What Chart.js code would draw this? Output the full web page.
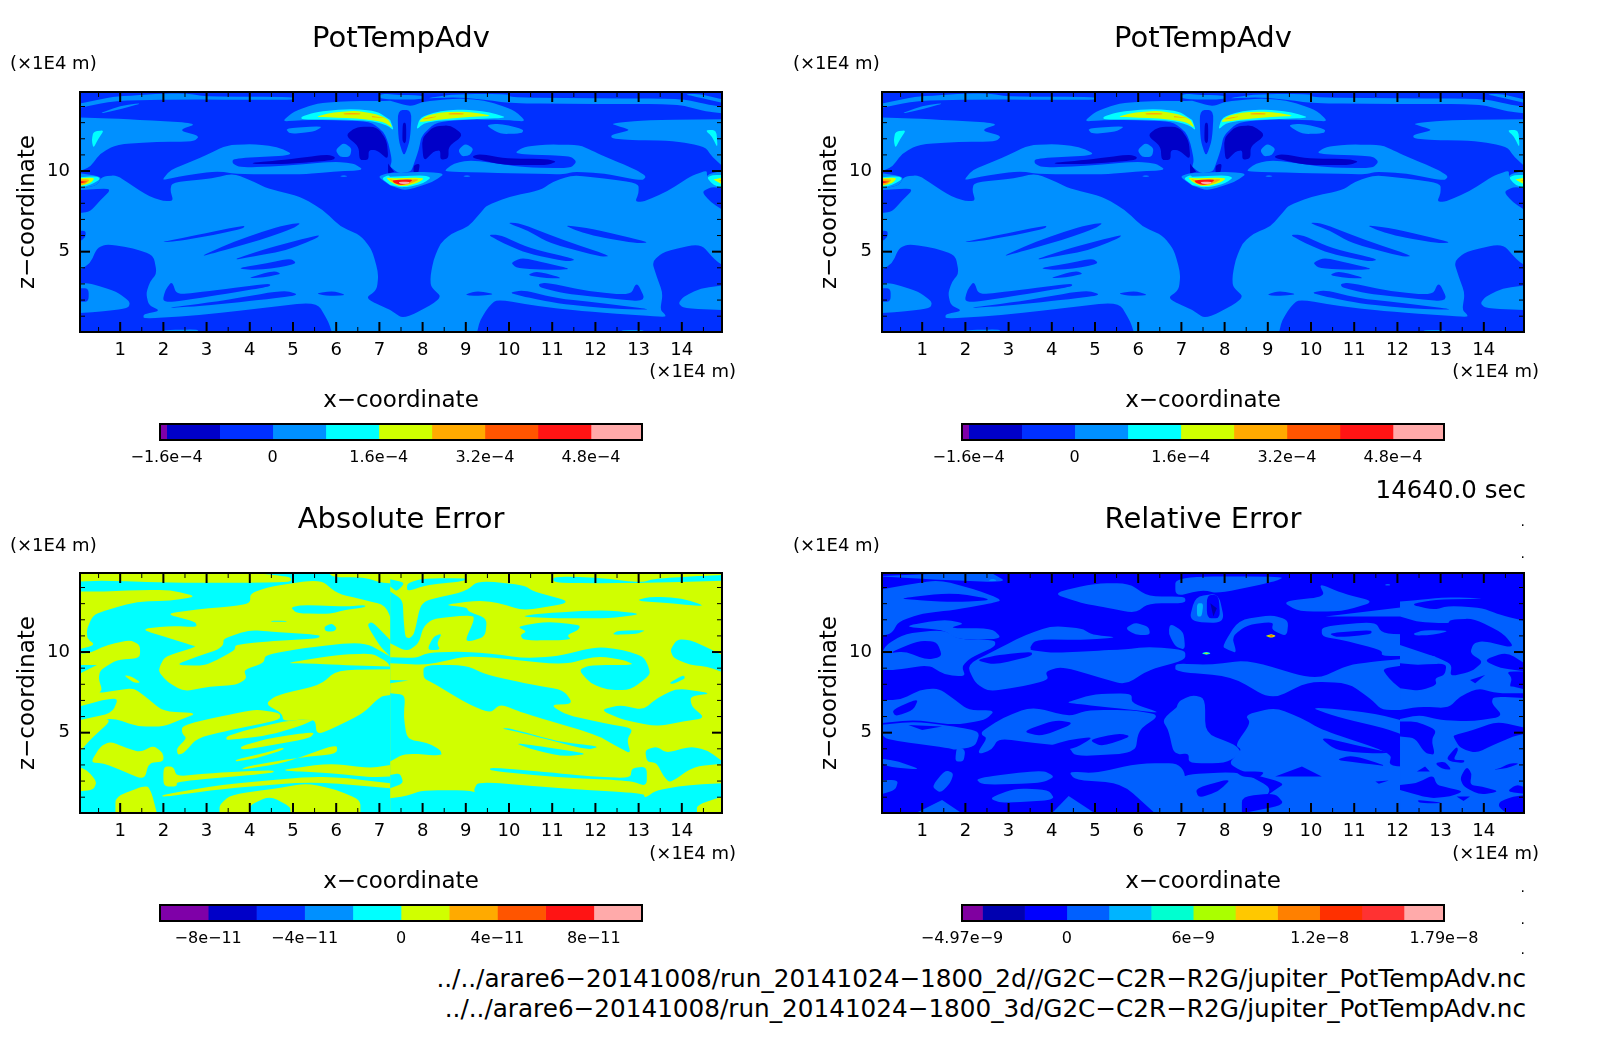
<!DOCTYPE html>
<html>
<head>
<meta charset="utf-8">
<title>PotTempAdv</title>
<script src="https://cdn.jsdelivr.net/npm/chart.js@4"></script>
<style>
  html, body { margin: 0; background: #fff; overflow: hidden; }
  canvas { position: absolute; }
  .note { position: absolute; font-family: "DejaVu Sans", sans-serif; color: #000; white-space: pre; line-height: 1; }
</style>
</head>
<body>
<script>
// Axis ticks
const xMajorTicks = [1, 2, 3, 4, 5, 6, 7, 8, 9, 10, 11, 12, 13, 14];
const xMinorTicks = [0.5, 1.5, 2.5, 3.5, 4.5, 5.5, 6.5, 7.5, 8.5, 9.5, 10.5, 11.5, 12.5, 13.5, 14.5];
const zMajorTicks = [5, 10];
const zMinorTicks = [1, 2, 3, 4, 6, 7, 8, 9, 11, 12, 13, 14];

// Colour levels
const potColours = ['#7f00a8', '#0000c8', '#0030ff', '#0090ff', '#00ffff', '#d0ff00', '#ffaa00', '#ff5500', '#ff1414', '#ffaaaa'];
const absColours = potColours;
const relColours = ['#8000a0', '#0000b0', '#0000ff', '#0060ff', '#00b4ff', '#00ffd0', '#aaff00', '#ffc800', '#ff8000', '#ff3000', '#ff3232', '#ffaaaa'];

const potEdges = [-1.7e-4, -1.6e-4, -0.8e-4, 0, 0.8e-4, 1.6e-4, 2.4e-4, 3.2e-4, 4e-4, 4.8e-4, 5.57e-4];
const absEdges = [-1e-10, -8e-11, -6e-11, -4e-11, -2e-11, 0, 2e-11, 4e-11, 6e-11, 8e-11, 1e-10];
const relEdges = [-4.97e-9, -4e-9, -2e-9, 0, 2e-9, 4e-9, 6e-9, 8e-9, 1e-8, 1.2e-8, 1.4e-8, 1.6e-8, 1.79e-8];

const potBarTicks = [-1.6e-4, 0, 1.6e-4, 3.2e-4, 4.8e-4];
const potBarLabels = ['−1.6e−4', '0', '1.6e−4', '3.2e−4', '4.8e−4'];
const absBarTicks = [-8e-11, -4e-11, 0, 4e-11, 8e-11];
const absBarLabels = ['−8e−11', '−4e−11', '0', '4e−11', '8e−11'];
const relBarTicks = [-4.97e-9, 0, 6e-9, 1.2e-8, 1.79e-8];
const relBarLabels = ['−4.97e−9', '0', '6e−9', '1.2e−8', '1.79e−8'];

const panelTitles = ['PotTempAdv', 'PotTempAdv', 'Absolute Error', 'Relative Error'];

// PotTempAdv contour bands, [x, z] in 1E4 m
const potWhole = [[0,0],[15,0],[15,15],[0,15]];
const potBig = [[0,8.82],[.46,9.13],[.58,9.65],[.92,9.75],[1.31,9.03],[1.69,8.41],[2,8.14],[2.23,8.14],[2.16,8.82],[2.2,9.28],[3.16,9.55],[3.62,9.86],[4.09,9.34],[4.4,8.93],[5.17,8.41],[5.71,7.58],[6.09,6.55],[6.56,6.03],[6.83,5.1],[6.98,3.66],[6.94,2.62],[6.67,2.11],[7.25,1.38],[7.57,.81],[8.47,2.11],[8.19,2.83],[8.18,3.45],[8.25,4.48],[8.41,5.52],[8.68,6.14],[9.06,6.55],[9.33,7.38],[9.49,7.89],[10.03,8.41],[10.72,8.82],[11.03,9.34],[11.46,9.75],[12.19,9.55],[13,9.24],[13,8.61],[12.92,8.1],[13.11,8.1],[13.65,8.72],[14.19,9.65],[14.58,10.06],[14.58,9.65],[14.73,9.03],[15,8.92],[15,4.07],[14.77,4.48],[14.43,5.52],[13.58,5],[13.31,4.38],[13.42,3.45],[13.56,2.42],[13.5,1.38],[13.62,1.11],[13.62,.93],[11.88,1.28],[10.72,1.59],[9.72,2.05],[9.53,1.59],[9.33,.76],[9.26,0],[5.9,0],[5.82,.66],[5.55,1.9],[4.24,1.49],[2.85,1.07],[1.54,.83],[1.54,1.12],[1.93,1.34],[1.66,1.69],[1.6,2.42],[1.69,3.14],[1.85,3.66],[1.77,4.79],[1.31,5.21],[.69,5.48],[.46,5.21],[.31,4.28],[0,3.76]];
const potUpperLeft = [[2,9.55],[2.16,10.06],[2.54,10.48],[3,10.99],[3.47,11.61],[4.09,11.67],[4.63,11.51],[5.05,10.99],[3.62,10.79],[3.59,10.48],[3.78,10.21],[4.86,10.33],[5.94,10.58],[6.4,10.48],[6.65,10.06],[5.94,9.96],[5.17,9.79],[3.7,9.81],[3.24,10],[2.54,9.75],[2,9.44]];
const potUpperRight = [[8.52,10.06],[8.72,10.47],[9.1,10.68],[9.72,10.47],[10.34,10.23],[11.42,10.16],[11.57,10.58],[11.42,10.93],[10.1,11.05],[10.34,11.51],[10.88,11.65],[11.65,11.61],[11.96,11.2],[12.5,10.58],[12.96,10.06],[13.18,9.65],[13.08,9.4],[12.19,9.85],[11.49,9.96],[11.26,9.79],[10.34,9.85],[9.41,9.9],[8.56,9.96]];
const potCornerLeft = [[0,13.33],[1.15,13.22],[2.81,12.96],[2.35,12.54],[2.84,12.17],[2.7,11.82],[1.85,11.82],[.92,11.65],[.54,11.1],[.31,10.27],[.1,10.02],[0,10.02]];
const potCornerRight = [[12.34,12.95],[13.19,13.16],[15,13.22],[15,10.16],[14.7,10.89],[14.54,11.51],[13.81,11.88],[12.81,11.92],[12.38,12.02],[12.36,12.23],[12.82,12.54],[12.57,12.75]];
const potTopLeft = [[0,13.88],[.85,14.36],[2.54,14.44],[5.01,14.4],[5.01,14.61],[3,14.61],[2.54,14.81],[2,14.81],[1.46,14.71],[.85,14.61],[0,14.15]];
const potTopWedge = [[.48,13.53],[1,14.03],[1.54,14.24],[1,13.82]];
const potTopMid = [[7.02,14.81],[7.48,14.71],[8,14.7],[8,14.44],[7.02,14.44]];
const potTopRight = [[8.02,14.5],[8.79,14.77],[10.01,14.77],[10.03,14.57],[11.96,14.5],[13.96,14.5],[14.66,14.09],[15,13.95],[15,13.57],[14.58,13.68],[13.89,14.15],[12.03,14.15],[10.03,14.2],[9.41,14.44],[8.79,14.57]];
const potTopSlit = [[14.04,14.77],[14.5,14.5],[15,14.19],[15,14.4],[14.43,14.77]];
const potArch = [[4.74,13.06],[5.01,13.68],[5.55,14.2],[6.32,14.34],[7.02,14.34],[7.25,14.36],[7.71,13.99],[8.02,14.3],[8.79,14.5],[9.41,14.4],[10.1,13.82],[10.41,13.06],[9.95,13.16],[9.1,13.2],[8.33,13.06],[7.98,12.23],[7.91,11.3],[7.79,10.37],[7.73,9.96],[7.44,9.85],[7.25,10.27],[7.29,10.68],[7.21,11.72],[7.1,12.44],[6.79,13.06],[5.94,13.16],[5.17,13.16]];
const potLobeLeft = [[4.82,12.65],[5.71,12.79],[5.48,12.44],[4.93,12.29]];
const potLobeRight = [[9.45,12.85],[9.8,12.95],[10.34,12.58],[10.3,12.33],[9.8,12.29]];
const potIsleLeft = [[0,3.04],[.31,3.04],[.92,2.52],[1.23,1.9],[1.19,1.49],[.54,1.28],[0,1.18]];
const potIsleLeftCore = [[0,2.73],[.27,2.73],[.27,1.9],[0,1.9]];
const potIsleRight = [[15,2.93],[14.43,2.73],[14.04,2.21],[13.92,1.8],[14.04,1.49],[15,1.38]];
const potHaloLeft = [[0,9.9],[.58,9.65],[.46,9.13],[0,8.82]];
const potHaloRight = [[14.54,9.75],[15,10.06],[15,8.82],[14.7,8.93]];
const potHaloMiddle = [[6.96,9.65],[7.17,9.86],[7.5,9.9],[8.1,9.95],[8.52,9.85],[8.25,9.34],[7.79,8.92],[7.56,8.82],[7.25,9.1]];
const potDashes = [[[6.1,9.72],[6.25,9.72],[6.25,9.65],[6.1,9.65]], [[8.95,9.72],[9.1,9.72],[9.1,9.65],[8.95,9.65]], [[2,.14],[2.8,.18],[2.8,0],[2,0]], [[12.61,.14],[13.11,.14],[13.11,0],[12.61,0]]];
const potCircleLeft = [[5.98,11.3],[6.17,11.76],[6.36,11.41],[6.32,10.89],[6.09,10.85]];
const potCircleRight = [[8.82,11.3],[8.99,11.71],[9.18,11.4],[9.1,10.99],[8.91,10.89]];
const potBlueStripes = [
  [[0,8.82],[.73,8.93],[.75,8.72],[.54,8.2],[.31,7.48],[0,7.38]],
  [[0,6.3],[.2,6.3],[.2,5.9],[0,5.5]],
  [[14.46,8.72],[14.7,9.03],[15,8.9],[15,7.48],[14.66,8.1]],
  [[1.89,5.56],[2.78,6.03],[3.89,6.65],[3.85,6.45],[3.16,6.03],[2.39,5.68]],
  [[2.84,4.69],[3.62,5.62],[4.63,6.55],[5.2,6.82],[5.01,6.45],[4.24,5.72],[3.24,4.96]],
  [[3.58,4.48],[4.4,5.2],[5.63,6.07],[5.55,5.83],[4.86,5.1],[4.09,4.69]],
  [[3.7,3.97],[4.4,4.28],[4.94,4.59],[5.09,4.28],[4.7,4.01],[4.09,3.86]],
  [[3.93,3.35],[4.55,3.82],[4.74,3.62],[4.32,3.41]],
  [[1.98,1.9],[2.04,2.62],[2.2,3.18],[2.31,2.31],[3.22,2.62],[4.47,3.04],[4.47,2.83],[3.24,2.31],[2.31,1.9]],
  [[2,1.49],[3.24,1.9],[4.78,2.62],[5.17,2.31],[4.24,2],[2.85,1.63]],
  [[5.52,2.42],[5.94,2.56],[6.25,2.31],[5.78,2.25]],
  [[11.28,6.65],[11.88,6.45],[13.27,5.58],[12.96,5.52],[12.03,5.93],[11.53,6.34]],
  [[9.94,6.8],[10.26,6.76],[11.26,5.72],[12.36,4.73],[12.11,4.69],[10.95,5.52],[10.41,6.34]],
  [[9.5,6.07],[9.8,6.03],[10.49,5.21],[11.57,4.52],[11.34,4.38],[10.41,4.9],[9.87,5.52]],
  [[10.04,4.32],[10.3,4.63],[10.72,4.38],[11.46,3.93],[11.03,3.86],[10.18,3.97]],
  [[10.41,3.55],[10.65,3.8],[11.26,3.35],[10.88,3.35]],
  [[10.68,3],[10.88,3.08],[11.88,2.52],[12.81,2.31],[12.96,3.14],[13.18,1.9],[12.27,2.11],[11.26,2.42],[10.72,2.79]],
  [[10,2.46],[10.34,2.62],[11.11,2.11],[12.19,1.8],[13.42,1.38],[12.19,1.49],[11.11,1.8],[10.34,2.21]],
  [[8.95,2.31],[9.26,2.58],[9.68,2.37],[9.33,2.25]],
  [[7.42,13.78],[7.75,13.78],[7.71,11.92],[7.57,10.85],[7.44,11.92]]
];
const potDarkBlue = [
  [[6.21,12.23],[6.48,12.75],[6.94,12.75],[7.17,11.92],[7.21,10.68],[6.94,11.3],[6.75,11.3],[6.75,10.68],[6.54,10.68],[6.52,11.51]],
  [[7.98,12.02],[8.25,12.75],[8.64,12.85],[8.95,12.23],[8.6,11.51],[8.6,10.78],[8.41,10.68],[8.41,11.3],[8.25,11.2],[8.02,10.58]],
  [[4.05,10.52],[4.78,10.68],[5.78,11.03],[5.98,10.89],[5.94,10.68],[4.86,10.43],[4.09,10.43]],
  [[9.16,10.93],[9.33,11.05],[9.95,10.78],[10.88,10.74],[11.11,10.58],[10.88,10.37],[9.87,10.37],[9.18,10.79]],
  [[7.79,10.37],[7.94,10.47],[7.9,9.85],[7.79,9.85]],
  [[7.2,10.47],[7.34,9.96],[7.2,9.85]],
  [[7.54,13],[7.62,13],[7.62,11.82],[7.57,11.7],[7.53,11.92]]
];
const potCyan = [
  [[.38,12.44],[.63,12.54],[.5,12.03],[.38,11.41],[.34,11.92]],
  [[14.54,12.54],[14.8,12.54],[14.83,11.4],[14.7,12.13]],
  [[5.19,13.37],[5.55,13.68],[6.32,13.86],[6.94,13.72],[7.25,13.16],[7.34,12.5],[7.17,12.85],[6.79,13.12],[5.94,13.2],[5.2,13.2]],
  [[7.85,12.54],[7.94,13.33],[8.41,13.74],[9.02,13.82],[9.56,13.64],[9.99,13.3],[9.1,13.2],[8.33,13.12],[8.02,12.95]],
  [[7.05,9.55],[7.2,9.75],[7.25,9.65],[8.02,9.75],[8.2,9.59],[8.02,9.24],[7.71,9.03],[7.48,8.99],[7.25,9.13]],
  [[0,9.6],[.46,9.69],[.54,9.5],[.31,9.13],[0,8.93]],
  [[14.58,9.59],[14.7,9.75],[15,9.75],[15,8.92],[14.73,9.13]]
];
const potYellow = [
  [[5.51,13.37],[5.94,13.64],[6.48,13.74],[6.94,13.53],[7.21,13.2],[7.31,12.65],[7.1,13.06],[6.48,13.27],[5.78,13.33]],
  [[7.91,13.06],[8.1,13.47],[8.56,13.68],[9.1,13.68],[9.64,13.41],[9.1,13.37],[8.41,13.2],[8.02,13.06]],
  [[7.15,9.6],[7.3,9.55],[8.06,9.59],[7.9,9.28],[7.64,9.07],[7.44,9.07],[7.25,9.34]],
  [[0,9.55],[.42,9.59],[.31,9.23],[0,9.03]],
  [[14.73,9.48],[15,9.61],[15,9.07]]
];
const potOrange = [
  [[6.17,13.6],[6.56,13.6],[6.56,13.51],[6.17,13.51]],
  [[6.83,13.41],[7.17,13.27],[6.83,13.33]],
  [[8.6,13.6],[8.95,13.6],[8.95,13.51],[8.6,13.51]],
  [[8.01,13.24],[8.31,13.4],[8.31,13.34],[8.01,13.2]],
  [[7.2,9.55],[7.35,9.4],[7.94,9.52],[7.79,9.28],[7.56,9.11],[7.37,9.2]],
  [[0,9.49],[.31,9.49],[.19,9.17],[0,9.13]],
  [[14.85,9.44],[15,9.44],[15,9.2]]
];
const potRed = [
  [[7.3,9.45],[7.79,9.48],[7.67,9.24],[7.48,9.13],[7.33,9.28]],
  [[0,9.4],[.24,9.34],[0,9.17]]
];
const potPink = [[7.44,9.34],[7.71,9.34],[7.67,9.2],[7.48,9.2]];

const potLayers = [
  [2, potWhole], [3, potBig], [3, potUpperLeft], [3, potUpperRight], [3, potCornerLeft], [3, potCornerRight],
  [3, potTopLeft], [3, potTopWedge], [3, potTopMid], [3, potTopRight], [3, potTopSlit], [3, potArch],
  [3, potLobeLeft], [3, potLobeRight], [3, potIsleLeft], [2, potIsleLeftCore], [3, potIsleRight],
  [3, potHaloLeft], [3, potHaloRight],
  ...potDashes.map(p => [3, p]),
  ...potBlueStripes.map(p => [2, p]),
  ...potDarkBlue.map(p => [1, p]),
  [3, potCircleLeft], [3, potCircleRight], [3, potHaloMiddle],
  ...potCyan.map(p => [4, p]),
  ...potYellow.map(p => [5, p]),
  ...potOrange.map(p => [6, p]),
  ...potRed.map(p => [8, p]),
  [9, potPink]
];

// Absolute Error contour bands
const absYellowBands = [
  [[0,14.37],[.61,14.43],[2.16,14.3],[4.01,14.3],[4.97,14.33],[4.94,14.68],[3.7,15],[0,15]],
  [[5.78,15],[7.48,15],[7.48,14.26],[7.1,14.26],[6.63,14.64],[5.94,14.64]],
  [[0,13.75],[.61,13.75],[1.46,13.85],[2.16,13.85],[2.78,13.44],[2.16,13.19],[1.39,13.13],[.69,12.61],[.38,12.3],[.23,11.47],[.23,10.85],[.42,10.44],[0,10.13]],
  [[0,9.9],[.3,9.93],[.69,10.44],[1.23,10.75],[1.46,10.44],[1.46,9.62],[.92,9.51],[.54,8.89],[.5,8.37],[.58,7.65],[.5,7.45],[1,7.65],[1.31,7.76],[1.58,7.24],[2,6.31],[2.78,6.21],[2.39,5.79],[2,5.38],[1.39,5.38],[.85,5.9],[.3,5.69],[0,5.69]],
  [[1.46,11.41],[2.16,11.62],[2.78,11.54],[2.74,11.89],[2.04,12.36],[2.78,12.65],[3.55,12.82],[4.01,13.02],[4.01,13.64],[4.47,14.06],[5.63,14.51],[6.02,13.64],[6.63,13.23],[7.14,12.92],[7.37,11.37],[7.25,10.75],[6.83,11.89],[6.71,11.68],[7.02,10.34],[7.25,9.72],[6.63,10.65],[5.24,10.24],[4.36,9.82],[4.32,9.31],[3.86,8.89],[3.93,8.37],[3.7,7.96],[3.08,7.86],[2.47,7.55],[2.08,8.17],[1.89,8.79],[1.93,9.2],[2.04,9.72],[2.78,10.34],[2.62,10.44],[2.16,10.85]],
  [[4.82,9.31],[6.02,9.82],[6.83,9.92],[7.17,9.41],[7.25,9.1],[6.02,9.2],[5.24,9.31]],
  [[4.36,6.78],[4.63,7.34],[5.63,7.96],[6.02,8.89],[7.25,8.93],[7.25,7.34],[7.02,7.24],[6.63,6.21],[6.02,5.38],[5.55,4.86],[5.51,5.9],[4.78,5.69],[4.74,6.21]],
  [[.31,3.15],[.54,4.14],[.77,4.45],[1.15,4.04],[1.46,3.79],[1.77,4.2],[2,3.72],[2,3.21],[1.66,3.11],[1.56,2.07],[1,2.69],[.61,3.11]],
  [[0,2.9],[.23,2.69],[.46,1.97],[.38,1.46],[0,1.35]],
  [[0,5.79],[.85,5.9],[.3,4.55],[0,3.62]],
  [[1.08,8.58],[1.27,8.48],[1.48,8.1],[1.31,8.1]],
  [[2.43,5.38],[2.78,5.69],[3.7,6.21],[4.16,6.45],[4.7,6.21],[4.7,5.79],[3.55,5.17],[2.78,4.66],[2.47,3.73],[2.33,3.62],[2.31,4.04],[2.54,4.66],[2.43,4.97]],
  [[3.45,4.76],[3.93,5.17],[4.78,5.69],[5.55,5.9],[5.24,5.48],[4.47,4.86],[3.47,4.51]],
  [[3.78,4.14],[4.47,4.66],[5.51,5.07],[5.4,4.66],[4.55,4.24],[3.82,3.93]],
  [[3.66,3.31],[4.32,3.73],[4.78,4.08],[4.78,3.93],[4.16,3.42],[3.7,3.21]],
  [[3.78,2.69],[4.78,3.11],[6.02,4.3],[6.02,3.69],[5.24,3.48],[4.78,3.31],[3.93,2.9]],
  [[4.82,2.73],[5.86,3.11],[6.79,2.8],[7.25,3],[7.25,2.28],[6.79,2.24],[5.86,2.49],[4.82,2.65]],
  [[2,2.9],[2.23,2.9],[2.31,2.28],[3.08,2.49],[4.55,2.69],[4.55,2.49],[2.31,1.97],[2.31,1.66],[2,1.66]],
  [[1.96,1.14],[3.3,1.76],[5.4,2.28],[6.25,2.18],[7.25,1.87],[7.25,1.56],[5.4,1.97],[3.3,1.5],[2,1]],
  [[3.3,.52],[3.55,1.14],[4.63,1.56],[5.32,1.87],[6.02,1.45],[6.56,.83],[6.56,0],[3.3,0]],
  [[.89,1.04],[1.62,1.76],[1.73,1.25],[1.85,0],[.89,0]],
  [[7.29,1.56],[7.48,1.62],[7.48,1.14]],
  [[7.25,0],[15,0],[15,15],[7.25,15]]
];
const absCyanHoles = [
  [[0,9.2],[.46,9.2],[0,8.58]],
  [[0,6.58],[.61,7.03],[.96,7.14],[.81,6.21],[0,5.75]],
  [[4.94,12.78],[5.24,12.92],[6.25,12.82],[6.67,12.92],[6.67,12.78],[6.21,12.61],[5.86,12.36],[5.09,12.4]],
  [[5.72,11.58],[5.9,11.78],[6.02,11.47],[5.94,11.27],[5.75,11.27]],
  [[3.39,10.85],[4.01,11.37],[4.47,11.27],[5.63,11.06],[5.59,10.85],[4.32,10.65],[3.66,10.44],[3.66,10.13],[3.24,9.51],[2.93,9.14],[2.27,9.2],[2.78,9.72],[3.24,10.13],[3.39,10.44]],
  [[4.5,11.95],[4.85,11.93],[4.85,11.87],[4.5,11.87]],
  [[4.01,.52],[4.47,1.08],[4.94,.4],[4.94,0],[4.01,0]],
  [[11.03,14.68],[11.96,14.64],[13.04,14.3],[13.42,14.57],[14.89,14.78],[15,14.78],[15,14.43],[13.42,14.3],[12.03,14.26],[11.03,14.3]],
  [[7.64,14.26],[8.02,14.57],[9.1,14.57],[8.87,14.37],[8.1,14.16],[7.64,13.75]],
  [[7.25,14.51],[7.6,14.3],[7.4,13.75],[7.25,14.06]],
  [[7.25,13.75],[7.54,13.23],[7.56,11.99],[7.6,10.92],[7.71,10.85],[7.81,11.16],[7.94,12.82],[8.1,13.23],[8.99,13.75],[9.29,14.43],[10.34,14.16],[10.57,13.75],[11.49,13.09],[10.34,12.55],[9.72,13.09],[9.26,13.19],[8.48,12.92],[9.02,12.78],[9.06,12.51],[9.49,12.09],[9.45,10.96],[9.1,10.65],[8.99,10.75],[9.18,11.89],[9.18,12.3],[8.25,12.09],[8.02,11.58],[7.91,10.54],[7.64,10.03],[7.25,10.54]],
  [[8.1,10.13],[8.25,10.96],[8.45,11.16],[8.33,10.54],[8.41,10.13]],
  [[7.25,9.68],[7.83,9.62],[8.14,9.97],[8.87,10.03],[9.56,9.92],[10.34,9.62],[11.11,9.72],[12.03,10.34],[12.65,10.13],[13.11,9.72],[13.23,9.1],[13.27,8.58],[12.81,7.65],[12.27,7.65],[11.88,8.07],[11.61,8.89],[11.88,9.2],[12.92,9.2],[12.65,9.51],[12.03,9.76],[11.26,9.2],[9.56,9.68],[8.95,9.72],[8.48,9.41],[8.02,9.2],[7.25,9.3]],
  [[8.02,9.2],[8.99,9.2],[9.49,8.58],[10.57,7.96],[11.26,7.65],[11.49,6.78],[10.95,6.72],[11.34,6.1],[12.19,5.59],[12.88,5.28],[12.73,4.55],[12.82,3.69],[12.5,4.14],[12.03,4.86],[10.34,6.21],[9.8,6.78],[9.56,6.21],[9.02,6.83],[8.25,8.07],[8.02,8.37]],
  [[12.11,6.41],[12.57,6.72],[13.11,6.41],[13.42,7.14],[13.89,7.76],[14.7,7.45],[14.19,7.24],[14.23,6.62],[14.54,5.9],[14.04,5.69],[13.42,5.38],[12.65,5.79]],
  [[13.73,10.13],[13.89,10.79],[14.19,10.75],[14.54,10.34],[15,9.72],[15,8.7],[14.58,9.1],[14.19,9.2],[13.81,9.62]],
  [[13.7,8.07],[14.04,8.58],[14.08,8.37],[13.81,8.02]],
  [[9.8,5.28],[10.03,5.28],[11.11,4.45],[12.11,4.14],[11.8,3.93],[10.34,4.97]],
  [[10.14,4.35],[10.49,4.24],[11.88,3.69],[11.26,3.52],[10.57,3.93]],
  [[7.25,7.45],[7.6,7.34],[7.56,6],[7.64,4.59],[8.1,4.39],[8.41,3.93],[8.45,3.56],[7.6,3.73],[7.25,3.21]],
  [[7.25,8.27],[7.67,8.23],[7.25,8.07]],
  [[13.15,3.93],[13.42,4.14],[13.65,3.73],[14.19,4.14],[14.58,3.93],[15,3.1],[14.27,2.9],[13.73,1.87],[13.58,2.28],[13.42,3.11],[13.19,3.21]],
  [[9.56,2.86],[11.11,2.49],[11.88,2.28],[12.81,2.18],[12.84,2.8],[13.19,2.9],[13.19,1.66],[12.81,2.03],[11.11,2.24],[9.56,2.65]],
  [[9.18,1.45],[9.29,1.97],[11.11,1.56],[13.11,1.25],[13.15,.94],[13.42,1.45],[14.19,1.77],[15,1.87],[15,1.1],[14.35,.52],[14.35,0],[9.33,0],[9.26,1.04]],
  [[7.25,2.38],[7.48,2.49],[7.56,1.87],[7.25,1.56]],
  [[7.25,.94],[7.64,1.08],[8.02,1.45],[9.18,1.41],[9.4,.94],[9.4,0],[7.25,0]],
  [[12.92,13.19],[13.27,13.44],[14,13.35],[14.58,12.82],[13.81,13]],
  [[10.26,12.2],[10.72,12.4],[12.19,12.61],[13.11,12.36],[12.34,12.09],[11.11,12.09]],
  [[10.18,11.58],[10.88,11.89],[11.65,11.68],[11.61,11.37],[11.34,11.06],[11.45,10.75],[10.34,10.71],[10.26,11.06],[10.41,11.27]],
  [[12.38,11.06],[12.5,11.31],[13.19,11.37],[12.96,11.12]]
];
const absLayers = [
  [4, potWhole],
  ...absYellowBands.map(p => [5, p]),
  ...absCyanHoles.map(p => [4, p])
];

// Relative Error contour bands
const relLightBands = [
  [[0,13.85],[.61,14.16],[1.38,14.47],[2.15,13.95],[2.77,13.33],[2.81,13.13],[1.76,12.61],[1,12.4],[.45,11.89],[.3,11.16],[0,10.96]],
  [[0,14.7],[2.54,15],[3,14.3],[1.2,14.5]],
  [[.53,11.58],[1.49,12.03],[2,11.78],[1.61,11.47],[2.61,11.47],[2.85,10.85],[2.3,10.75],[1.76,10.85],[1.49,11.37]],
  [[.1,10.34],[.61,11.16],[1.49,11.37],[1.84,10.79],[2.69,10.75],[2.69,10.34],[2.11,9.62],[1.92,9.1],[2,8.48],[1.53,8.58],[1.15,9.2],[.38,8.89],[0,8.89]],
  [[2.03,9.2],[2.77,10.23],[3.39,11.06],[4,11.62],[4.7,11.47],[4.93,11.06],[5.55,10.92],[4.77,10.75],[3.62,10.79],[3.46,10.13],[4,10.13],[5.62,10.13],[6.24,10.34],[7.09,10.13],[7.09,9.51],[6.24,8.89],[5.7,7.96],[5.16,8.38],[4.23,9.1],[3.85,8.79],[3.93,8.27],[3.31,7.86],[2.54,7.55],[2.23,8.07]],
  [[5.7,11.47],[5.93,11.83],[6.24,11.58],[6.28,11.06],[5.93,11.06]],
  [[6.74,11.78],[7.05,11.27],[7.09,10.13],[6.86,10.34],[6.7,11.16]],
  [[4,13.64],[5,14.26],[5.78,14.26],[6.24,13.44],[7.09,13.44],[7.09,13.02],[6.24,13.02],[5.93,12.4],[5.16,12.82],[4.7,13.02]],
  [[0,7.03],[.49,7.03],[.95,7.65],[1.38,7.76],[1.76,7.03],[2.07,6.41],[2.69,6.37],[2.46,5.79],[1.76,5.48],[.84,5.79],[0,5.59]],
  [[2.38,5.07],[2.85,5.9],[3.54,6.62],[4.39,6],[4.85,6.41],[5.85,6.41],[6.51,6.1],[6.01,5.17],[5.93,3.73],[4.54,3.52],[4.39,4.14],[3.62,4.35],[2.77,4.66],[2.61,3.93],[2.34,3.69],[2.3,3.83],[2.5,4.66],[2.38,4.86]],
  [[4.39,6.93],[5,7.4],[5.85,7.45],[5.85,6.83],[6.55,6.21],[5.85,6.41],[4.39,6.83]],
  [[0,5.48],[.84,5.69],[1.76,5.38],[2.34,5.07],[2.23,4.14],[1.76,3.93],[1.61,4.04],[.49,4.45],[.1,4.66]],
  [[1.8,4.14],[2,3.93],[1.96,3.21],[1.76,3.21]],
  [[0,3.42],[.45,3.21],[1,2.69],[.14,2.9]],
  [[1.22,1.66],[1.53,2.69],[1.73,2.49],[1.65,1.87],[1.42,1.25]],
  [[0,2.07],[.45,2.07],[.38,1.45],[0,1.14]],
  [[4.39,2.59],[5,2.49],[6.01,3.11],[7.09,3.11],[7.09,0],[6.39,0],[5.62,1.87],[4.54,2.07]],
  [[2.23,2.18],[3.77,2.69],[4.08,2.28],[3.77,1.87],[2.38,1.76]],
  [[3.15,1.56],[3.93,1.45],[4.08,.83],[2.85,.63],[2.54,.94]],
  [[4,0],[4.39,1.08],[5,0]],
  [[.84,0],[1.46,.83],[1.92,0]],
  [[6.55,5.8],[7.09,7.03],[7.09,3.73],[6.82,3.7],[6.7,5.17]],
  [[6.86,13.44],[7.47,13.85],[7.86,13.64],[9.17,14.37],[9.4,14.68],[6.86,14.68]],
  [[7.17,11.89],[7.32,13.44],[7.86,13.64],[8.01,11.78]],
  [[7.94,10.34],[8.32,11.99],[9.09,12.3],[9.48,11.99],[9.44,10.96],[9.09,11.37],[9.13,11.89],[8.52,11.68],[8.17,10.96],[8.28,9.93],[8.09,10.13]],
  [[6.86,9.3],[7.63,9.2],[8.56,9.51],[10.1,8.27],[10.87,9.2],[11.49,9.41],[12.72,9.72],[13.18,9.51],[13.26,8.48],[13.8,9.1],[15,9.1],[15,7.4],[13.26,7.65],[13.18,6.62],[12.26,6.41],[11.64,6.41],[11.41,7.03],[10.87,8.07],[9.94,8.17],[9.09,7.03],[8.17,8.48],[6.86,8.79]],
  [[10.18,14.26],[10.72,13.64],[11.49,13.13],[10.72,12.51],[9.71,12.51],[9.33,13.13],[10.33,13.44]],
  [[10.33,12.2],[12.26,12.82],[12.26,12.2]],
  [[10.25,11.58],[11.49,11.89],[11.64,11.16],[12.41,11.06],[13.26,10.34],[13.22,9.82],[11.64,9.72],[11.64,10.13],[10.72,10.75],[10.25,10.96]],
  [[6.86,6.83],[7.24,7.34],[7.55,7.14],[7.55,4.97],[8.25,4.24],[8.4,3.73],[8.01,3.11],[7.17,3.11],[7.17,3.73],[6.86,3.62]],
  [[8.48,6.1],[9.17,6.56],[9.79,5.9],[10.25,5.17],[11.87,3.73],[11.8,2.9],[12.72,2.9],[13.26,2.07],[13.42,3.11],[15,2.07],[15,0],[8.4,0],[9.17,1.45],[9.4,1.87],[8.4,2.59],[8.09,3.11],[8.4,3.93],[8.25,4.24],[8.6,5.59]],
  [[9.94,6.62],[11.49,6.21],[12.88,5.17],[12.72,4.14],[11.87,5.17],[10.56,6]],
  [[6.86,2.38],[8.4,2.59],[9.17,1.45],[8.4,0],[6.86,0]]
];
const relBlueHoles = [
  [[.49,13.33],[1.69,13.69],[2.69,13.23],[1.76,13.09],[.76,13.23]],
  [[.22,9.93],[.92,10.71],[1.34,10.65],[1.47,9.72],[1.11,9.51],[.61,10.03]],
  [[3.62,10.34],[4.85,10.54],[6.01,10.44],[5.62,10.17],[4.08,9.93],[3.46,10.13]],
  [[2.23,9.51],[2.77,9.82],[3.54,10.03],[3.54,9.76],[2.69,9.2]],
  [[.3,6.41],[.92,7.14],[.8,6.41],[.38,6]],
  [[3.31,5.07],[4.08,5.79],[4.54,5.59],[3.77,4.76]],
  [[3.77,4.04],[4.39,4.55],[5,4.76],[4.47,3.93]],
  [[4.85,4.55],[5.55,4.97],[5.85,4.76],[5.16,4.14]],
  [[.68,5.48],[1.46,5.38],[1,5.17]],
  [[7.59,13.54],[7.86,13.54],[7.9,12.09],[7.59,12.09]],
  [[11.64,8.99],[12.26,9.2],[12.26,7.65],[12.1,7.65],[11.8,8.37]],
  [[10.4,11.17],[11.4,11.37],[11.4,11.1],[10.6,10.9]],
  [[10.18,4.76],[11.18,4.14],[11.87,3.73],[11.18,3.73],[10.56,3.93]],
  [[10.56,3.31],[10.95,3.62],[11.8,2.9],[11.18,3.11]],
  [[8.25,2.59],[8.94,2.59],[8.79,2.18],[8.4,2.28]],
  [[9.17,2.28],[9.79,2.9],[10.25,2.28]],
  [[11.49,1.97],[11.8,2.03],[11.57,1.83]],
  [[8.4,1.04],[9.17,1.25],[9.4,.52],[8.4,0]],
  [[7.32,1.56],[8.17,2.18],[7.86,1.35],[7.4,.94]]
];
// the strip along the right edge reads better as light with blue cut-outs
const relRightStrip = [[12.06,0],[15,0],[15,15],[12.06,15]];
const relRightBlue = [
  [[12.06,15],[15,15],[15,11.89],[14.37,12.3],[13.99,12.71],[13.22,12.88],[12.83,12.61],[12.29,12.96],[12.83,13.23],[14.14,13.33],[13.06,13.4],[12.52,13.23],[12.06,13.13]],
  [[12.06,12.2],[12.52,11.85],[13.18,11.78],[13.22,11.99],[13.76,12.09],[14.45,11.16],[14.72,10.23],[13.99,10.69],[13.76,10.54],[13.68,9.92],[13.99,9.41],[13.72,8.79],[13.22,8.48],[13.26,9.2],[12.99,9.61],[12.06,10.44]],
  [[12.06,9.3],[12.45,9.2],[13.14,9.3],[13.1,8.58],[12.87,8.38],[12.91,7.96],[12.52,7.59],[12.06,7.76]],
  [[12.06,6.41],[12.52,6.62],[13.18,6.52],[13.45,7.24],[13.87,7.76],[14.3,7.45],[15,7.45],[15,7.14],[14.22,7.24],[14.18,6.83],[14.45,6],[13.72,5.69],[12.99,5.79],[12.52,6.1],[12.06,5.85]],
  [[12.06,5.69],[12.45,5.69],[12.91,5.17],[12.79,4.55],[12.87,3.62],[12.64,3.73],[12.41,4.66],[12.06,4.76]],
  [[13.33,4.86],[13.76,5.17],[14.3,5.69],[15,5.28],[15,4.97],[14.68,4.76],[14.22,4.24],[13.83,3.73],[13.45,4.04],[13.29,4.76]],
  [[13.14,3.42],[13.37,4.14],[13.41,3.93],[13.29,3.31],[13.56,3.31],[13.53,3.11],[13.22,3.21]],
  [[14.37,2.8],[14.6,3.11],[14.84,3.11],[14.53,2.8],[14.22,2.69]],
  [[13.45,2.18],[13.6,2.9],[13.72,2.49],[13.68,1.76],[13.95,1.66],[14.37,1.35],[13.91,1.14],[13.53,1.66]],
  [[12.87,3.11],[13.1,3.21],[13.26,2.69],[13.02,2.76]],
  [[12.45,2.59],[12.64,2.9],[12.75,2.59]],
  [[12.06,1.76],[12.45,1.87],[12.83,2.38],[12.91,1.76],[13.22,1.56],[13.53,1.35],[13.22,1.04],[12.83,.94],[12.6,1.04],[12.06,1.45]],
  [[14.37,.73],[14.68,1.04],[15,1.14],[15,0],[14.53,0],[14.34,.42]],
  [[14.53,1.35],[14.76,1.8],[15,1.56],[15,1.19]],
  [[13.37,1.04],[13.68,1.04],[13.53,.77]],
  [[12.45,.83],[12.83,.73],[13.06,.63],[12.52,.63]],
  [[13.68,8.27],[14.03,8.58],[13.8,8.07]],
  [[14.53,8.79],[14.65,8.38],[14.6,7.86],[14.68,7.86],[15,7.65],[15,8.79]],
  [[13.99,9.5],[14.53,10],[15,9.2],[15,8.79],[14.37,9]]
];
const relRightLens = [[12.37,11.16],[12.64,11.37],[13.22,11.31],[12.83,11.06],[12.41,11.02]];
const relRightStreak = [[12.06,10],[12.99,9.72],[12.52,9.5],[12.06,9.5]];
const relSkySpots = [
  [[7.36,13.02],[7.51,13.02],[7.47,12.2],[7.36,12.2]],
  [[2.55,14.49],[2.71,14.49],[2.71,14.44],[2.55,14.44]],
  [[11.72,14.18],[11.83,14.18],[11.83,14.14],[11.72,14.14]]
];
const relDarkSpot = [[7.67,13.02],[7.82,12.71],[7.74,12.2]];
const relSpotOneOuter = [[7.46,9.92],[7.58,10.02],[7.69,9.92],[7.58,9.82]];
const relSpotOneInner = [[7.52,9.92],[7.58,9.96],[7.64,9.92],[7.58,9.88]];
const relSpotTwoOuter = [[8.94,11],[9.08,11.12],[9.2,11],[9.08,10.88]];
const relSpotTwoMiddle = [[8.98,11],[9.08,11.08],[9.18,11],[9.08,10.92]];
const relSpotTwoInner = [[9.02,11],[9.08,11.04],[9.14,11],[9.08,10.96]];

const relLayers = [
  [2, potWhole],
  ...relLightBands.map(p => [3, p]),
  ...relBlueHoles.map(p => [2, p]),
  [3, relRightStrip],
  ...relRightBlue.map(p => [2, p]),
  [3, relRightLens], [3, relRightStreak],
  ...relSkySpots.map(p => [4, p]),
  [1, relDarkSpot],
  [5, relSpotOneOuter], [7, relSpotOneInner],
  [6, relSpotTwoOuter], [7, relSpotTwoMiddle], [9, relSpotTwoInner]
];

// x values where two traced halves meet, corners there stay sharp so no gap opens
const seamX = [7.25, 12.06];

const fontFamily = '"DejaVu Sans", sans-serif';

// fills each polygon dataset from the points the scales placed, corners inside the plot get rounded
const polygonFill = {
  id: 'polygonFill',
  beforeDatasetDraw(chart, args) {
    const { ctx, chartArea: a } = chart;
    const points = args.meta.data;
    const parsed = args.meta._parsed;
    const n = points.length;
    const rounded = (p, i) => p.x > a.left + 1 && p.x < a.right - 1 && p.y > a.top + 1 && p.y < a.bottom - 1 && !seamX.includes(parsed[i].x);
    const toward = (p, q, t) => [p.x + (q.x - p.x) * t, p.y + (q.y - p.y) * t];
    ctx.save();
    ctx.beginPath();
    ctx.rect(a.left, a.top, a.width, a.height);
    ctx.clip();
    ctx.beginPath();
    points.forEach((p, i) => {
      const prev = points[(i + n - 1) % n];
      const next = points[(i + 1) % n];
      if (n < 4 || !rounded(p, i)) {
        if (i) ctx.lineTo(p.x, p.y);
        else ctx.moveTo(p.x, p.y);
        return;
      }
      const from = toward(p, prev, 0.35);
      const to = toward(p, next, 0.35);
      if (i) ctx.lineTo(from[0], from[1]);
      else ctx.moveTo(from[0], from[1]);
      ctx.quadraticCurveTo(p.x, p.y, to[0], to[1]);
    });
    ctx.closePath();
    ctx.fillStyle = args.meta.controller.getDataset().backgroundColor;
    ctx.fill();
    ctx.restore();
  }
};

// frame and the inward ticks on all four sides
const plotFrame = {
  id: 'plotFrame',
  afterDraw(chart) {
    const { ctx, chartArea: a, scales } = chart;
    const tick = (x1, y1, x2, y2, w) => {
      ctx.lineWidth = w;
      ctx.beginPath();
      ctx.moveTo(x1, y1);
      ctx.lineTo(x2, y2);
      ctx.stroke();
    };
    ctx.save();
    ctx.strokeStyle = '#000';
    const drawX = (vals, len, w) => vals.forEach(v => {
      const px = scales.x.getPixelForValue(v);
      tick(px, a.top, px, a.top + len, w);
      tick(px, a.bottom, px, a.bottom - len, w);
    });
    const drawZ = (vals, len, w) => vals.forEach(v => {
      const py = scales.y.getPixelForValue(v);
      tick(a.left, py, a.left + len, py, w);
      tick(a.right, py, a.right - len, py, w);
    });
    drawX(xMajorTicks, 10, 2);
    drawX(xMinorTicks, 5, 1);
    drawZ(zMajorTicks, 10, 2);
    drawZ(zMinorTicks, 5, 1);
    ctx.lineWidth = 2;
    ctx.strokeRect(a.left, a.top, a.width, a.height);
    ctx.restore();
  }
};

function addCanvas(left, top, width, height) {
  const canvas = document.createElement('canvas');
  canvas.width = width;
  canvas.height = height;
  canvas.style.left = left + 'px';
  canvas.style.top = top + 'px';
  canvas.style.width = width + 'px';
  canvas.style.height = height + 'px';
  document.body.appendChild(canvas);
  return canvas;
}

function contourPanel(left, top, layers, colours) {
  // earlier layers need to land underneath, chart.js paints the highest order first
  const datasets = layers.map(([level, poly], i) => ({
    data: poly.map(([x, y]) => ({ x, y })),
    backgroundColor: colours[level],
    order: layers.length - i,
    pointRadius: 0,
    showLine: false
  }));
  return new Chart(addCanvas(left, top, 802, 417), {
    type: 'scatter',
    data: { datasets },
    plugins: [polygonFill, plotFrame],
    options: {
      responsive: false,
      animation: false,
      events: [],
      layout: { padding: { top: 92, right: 80 } },
      plugins: { legend: { display: false }, tooltip: { enabled: false } },
      scales: {
        x: {
          type: 'linear',
          min: 0.07,
          max: 14.93,
          grid: { display: false },
          border: { display: false },
          afterBuildTicks: axis => { axis.ticks = xMajorTicks.map(value => ({ value })); },
          afterFit: axis => { axis.height = 85; },
          ticks: {
            color: '#000',
            padding: 0,
            autoSkip: false,
            maxRotation: 0,
            font: { family: fontFamily, size: 18 },
            callback: v => String(v)
          },
          title: {
            display: true,
            text: 'x−coordinate',
            color: '#000',
            font: { family: fontFamily, size: 23 },
            padding: { top: 0, bottom: 2 }
          }
        },
        y: {
          type: 'linear',
          min: 0.02,
          max: 14.9,
          grid: { display: false },
          border: { display: false },
          afterBuildTicks: axis => { axis.ticks = zMajorTicks.map(value => ({ value })); },
          afterFit: axis => { axis.width = 80; },
          ticks: {
            color: '#000',
            padding: 2,
            autoSkip: false,
            font: { family: fontFamily, size: 18 },
            callback: v => String(v)
          },
          title: {
            display: true,
            text: 'z−coordinate',
            color: '#000',
            font: { family: fontFamily, size: 23 },
            padding: { top: 14, bottom: 0 }
          }
        }
      }
    }
  });
}

function colourBar(left, top, edges, colours, tickValues, tickLabels) {
  const datasets = colours.map((colour, i) => ({
    data: [[edges[i], edges[i + 1]]],
    backgroundColor: colour,
    borderWidth: 0,
    barPercentage: 1,
    categoryPercentage: 1,
    grouped: false
  }));
  return new Chart(addCanvas(left, top, 602, 50), {
    type: 'bar',
    data: { labels: [''], datasets },
    plugins: [{
      id: 'barFrame',
      afterDraw(chart) {
        const { ctx, chartArea: a } = chart;
        ctx.save();
        ctx.strokeStyle = '#000';
        ctx.lineWidth = 2;
        ctx.strokeRect(a.left, a.top, a.width, a.height);
        ctx.restore();
      }
    }],
    options: {
      indexAxis: 'y',
      responsive: false,
      animation: false,
      events: [],
      layout: { padding: { left: 60, right: 60, top: 4 } },
      plugins: { legend: { display: false }, tooltip: { enabled: false } },
      scales: {
        x: {
          type: 'linear',
          min: edges[0],
          max: edges[edges.length - 1],
          grid: { display: false },
          border: { display: false },
          afterBuildTicks: axis => { axis.ticks = tickValues.map(value => ({ value })); },
          afterFit: axis => { axis.height = 30; },
          ticks: {
            color: '#000',
            padding: 0,
            autoSkip: false,
            maxRotation: 0,
            font: { family: fontFamily, size: 16 },
            callback: (v, i) => tickLabels[i]
          }
        },
        y: { display: false }
      }
    }
  });
}

function addNote(text, x, y, size, align) {
  const el = document.createElement('div');
  el.className = 'note';
  el.textContent = text;
  el.style.fontSize = size + 'px';
  el.style.top = (y - size / 2) + 'px';
  if (align === 'right') el.style.right = (1604 - x) + 'px';
  else if (align === 'center') { el.style.left = x + 'px'; el.style.transform = 'translateX(-50%)'; }
  else el.style.left = x + 'px';
  document.body.appendChild(el);
}

contourPanel(0, 0, potLayers, potColours);
contourPanel(802, 0, potLayers, potColours);
contourPanel(0, 481, absLayers, absColours);
contourPanel(802, 481, relLayers, relColours);

colourBar(100, 420, potEdges, potColours, potBarTicks, potBarLabels);
colourBar(902, 420, potEdges, potColours, potBarTicks, potBarLabels);
colourBar(100, 901, absEdges, absColours, absBarTicks, absBarLabels);
colourBar(902, 901, relEdges, relColours, relBarTicks, relBarLabels);

[[401, 37], [1203, 37], [401, 518], [1203, 518]].forEach(([x, y], i) => addNote(panelTitles[i], x, y, 29, 'center'));
[[10, 63], [793, 63], [10, 545], [793, 545]].forEach(([x, y]) => addNote('(×1E4 m)', x, y, 18));
[[736, 371], [1539, 371], [736, 853], [1539, 853]].forEach(([x, y]) => addNote('(×1E4 m)', x, y, 18, 'right'));
addNote('14640.0 sec', 1526, 490, 24.5, 'right');
addNote('../../arare6−20141008/run_20141024−1800_2d//G2C−C2R−R2G/jupiter_PotTempAdv.nc', 1526, 979, 24.7, 'right');
addNote('../../arare6−20141008/run_20141024−1800_3d/G2C−C2R−R2G/jupiter_PotTempAdv.nc', 1526, 1009, 24.7, 'right');
[525, 557, 858, 891, 923, 953].forEach(y => addNote('.', 1525, y - 4, 14, 'right'));
</script>
</body>
</html>
